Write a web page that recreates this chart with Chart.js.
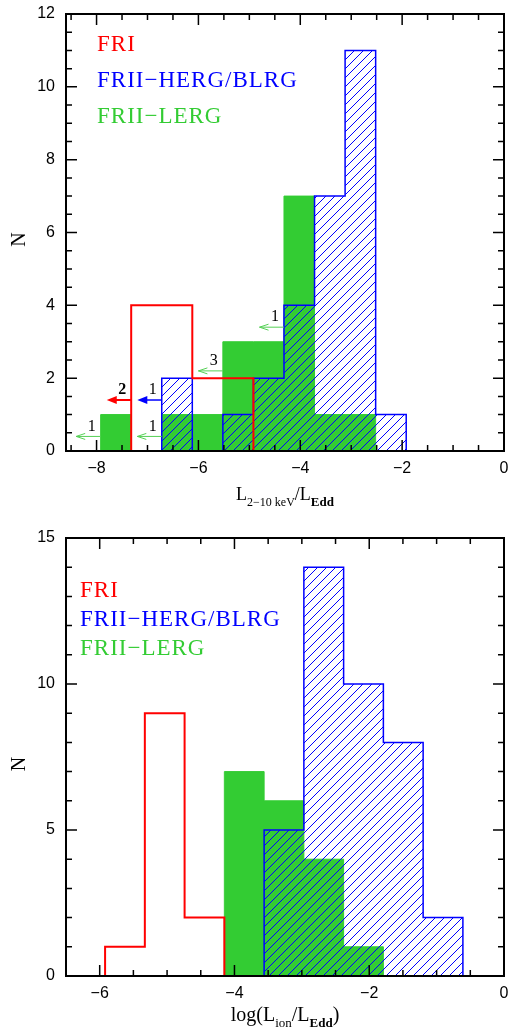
<!DOCTYPE html>
<html>
<head>
<meta charset="utf-8">
<script src="https://cdn.jsdelivr.net/npm/chart.js@4.4.1/dist/chart.umd.min.js"></script>
<style>
  html, body { margin: 0; padding: 0; background: #fff; }
  #wrap { position: relative; width: 508px; height: 1033px; }
  #wrap canvas { position: absolute; left: 0; }
  #top { top: 0; }
  #bottom { top: 516px; }
</style>
</head>
<body>
<div id="wrap">
  <canvas id="top" width="508" height="516"></canvas>
  <canvas id="bottom" width="508" height="517"></canvas>
</div>
<script>
// top panel: L(2-10 keV)/L_Edd, bins of 0.6
var xrayEdges = [-7.92, -7.32, -6.72, -6.12, -5.52, -4.92, -4.32, -3.72, -3.12, -2.52, -1.92];
var xrayFRI  = [0, 4, 4, 2, 2, 0, 0, 0, 0, 0];
var xrayHERG = [0, 0, 2, 0, 1, 2, 4, 7, 11, 1];
var xrayLERG = [1, 0, 1, 1, 3, 3, 7, 1, 1, 0];
// upper limits (arrow tail x, height, count, class)
var xrayLimX = [-7.92, -7.32, -6.72, -6.72, -5.52, -4.32];
var xrayLimY = [0.4, 1.4, 1.4, 0.4, 2.2, 3.4];
var xrayLimN = ['1', '2', '1', '1', '3', '1'];
var xrayLimC = ['lerg', 'fri', 'herg', 'lerg', 'lerg', 'lerg'];
var xrayXTicks = [-8, -6, -4, -2, 0];
var xrayYTicks = [0, 2, 4, 6, 8, 10, 12];

// bottom panel: log(L_ion/L_Edd), bins of 0.59
var ionEdges = [-5.92, -5.33, -4.74, -4.15, -3.56, -2.97, -2.38, -1.79, -1.20, -0.61];
var ionFRI  = [1, 9, 2, 0, 0, 0, 0, 0, 0];
var ionHERG = [0, 0, 0, 0, 5, 14, 10, 8, 2];
var ionLERG = [0, 0, 0, 7, 6, 4, 1, 0, 0];
var ionXTicks = [-6, -4, -2, 0];
var ionYTicks = [0, 5, 10, 15];

var legendNames = ['FRI', 'FRII\u2212HERG/BLRG', 'FRII\u2212LERG'];

var red = '#ff0000', blue = '#0000ff', green = '#33cc33', arrowGreen = '#55d055';
var serif = '"Liberation Serif", "DejaVu Serif", serif';

// histogram outline as step points, broken where the counts are zero
function steps(edges, counts) {
  var pts = [], i = 0;
  while (i < counts.length) {
    if (!counts[i]) { i++; continue; }
    if (pts.length) pts.push({x: edges[i], y: null});
    pts.push({x: edges[i], y: 0});
    while (i < counts.length && counts[i]) {
      pts.push({x: edges[i], y: counts[i]});
      i++;
    }
    pts.push({x: edges[i], y: 0});
  }
  return pts;
}

function hatch(color, size) {
  var c = document.createElement('canvas');
  c.width = size; c.height = size;
  var g = c.getContext('2d');
  g.strokeStyle = color;
  g.lineWidth = 1;
  g.beginPath();
  g.moveTo(0, size); g.lineTo(size, 0);
  g.moveTo(-size / 2, size / 2); g.lineTo(size / 2, -size / 2);
  g.moveTo(size / 2, size * 1.5); g.lineTo(size * 1.5, size / 2);
  g.stroke();
  return g.createPattern(c, 'repeat');
}

function drawParts(ctx, parts, cx, y) {
  var w = 0;
  parts.forEach(function (p) { ctx.font = p[1]; w += ctx.measureText(p[0]).width; });
  var x = cx - w / 2;
  ctx.textAlign = 'left';
  ctx.textBaseline = 'alphabetic';
  parts.forEach(function (p) {
    ctx.font = p[1];
    ctx.fillText(p[0], x, y + (p[2] || 0));
    x += ctx.measureText(p[0]).width;
  });
}

// frame, inward ticks, legend text, axis titles, upper-limit arrows
function decor(cfg) {
  return {
    id: 'decor',
    afterDatasetsDraw: function (chart) {
      var ctx = chart.ctx, a = chart.chartArea;
      var xs = chart.scales.x, ys = chart.scales.y;
      ctx.save();

      // arrows
      if (cfg.lim) {
        var L = cfg.lim;
        for (var i = 0; i < L.x.length; i++) {
          var tx = xs.getPixelForValue(L.x[i]);
          var hx = xs.getPixelForValue(L.x[i] - 0.48);
          var y = ys.getPixelForValue(L.y[i]);
          var col = L.c[i] === 'fri' ? red : (L.c[i] === 'herg' ? blue : arrowGreen);
          ctx.strokeStyle = col; ctx.fillStyle = col;
          if (L.c[i] === 'lerg') {
            ctx.lineWidth = 1;
            ctx.beginPath();
            ctx.moveTo(tx, y); ctx.lineTo(hx, y);
            ctx.moveTo(hx + 9, y - 3); ctx.lineTo(hx, y); ctx.lineTo(hx + 9, y + 3);
            ctx.stroke();
          } else {
            ctx.lineWidth = L.c[i] === 'fri' ? 2 : 1.5;
            ctx.beginPath();
            ctx.moveTo(tx, y); ctx.lineTo(hx + 5, y);
            ctx.stroke();
            ctx.beginPath();
            ctx.moveTo(hx, y); ctx.lineTo(hx + 10, y - 4); ctx.lineTo(hx + 10, y + 4);
            ctx.closePath(); ctx.fill();
          }
          ctx.fillStyle = '#000';
          ctx.font = (L.c[i] === 'fri' ? 'bold ' : '') + '16px ' + serif;
          ctx.textAlign = 'center'; ctx.textBaseline = 'middle';
          ctx.fillText(L.n[i], tx - 9, y - 10);
        }
      }

      // frame
      ctx.strokeStyle = '#000';
      ctx.lineWidth = 2;
      ctx.strokeRect(a.left, a.top, a.right - a.left, a.bottom - a.top);

      // ticks
      ctx.lineWidth = 1.5;
      ctx.beginPath();
      var v, p, len;
      for (v = Math.ceil(xs.min / cfg.xMinor) * cfg.xMinor; v <= xs.max + 1e-9; v += cfg.xMinor) {
        p = xs.getPixelForValue(v);
        len = Math.abs(v / cfg.xMajor - Math.round(v / cfg.xMajor)) < 1e-6 ? 11 : 6;
        ctx.moveTo(p, a.bottom); ctx.lineTo(p, a.bottom - len);
        ctx.moveTo(p, a.top); ctx.lineTo(p, a.top + len);
      }
      for (v = Math.ceil(ys.min / cfg.yMinor) * cfg.yMinor; v <= ys.max + 1e-9; v += cfg.yMinor) {
        p = ys.getPixelForValue(v);
        len = Math.abs(v / cfg.yMajor - Math.round(v / cfg.yMajor)) < 1e-6 ? 11 : 6;
        ctx.moveTo(a.left, p); ctx.lineTo(a.left + len, p);
        ctx.moveTo(a.right, p); ctx.lineTo(a.right - len, p);
      }
      ctx.stroke();

      // legend text
      ctx.font = '23px ' + serif;
      ctx.letterSpacing = '1px';
      ctx.textAlign = 'left'; ctx.textBaseline = 'alphabetic';
      var cols = [red, blue, green];
      for (i = 0; i < legendNames.length; i++) {
        ctx.fillStyle = cols[i];
        ctx.fillText(legendNames[i], a.left + cfg.legX, a.top + cfg.legY + i * cfg.legDy);
      }
      ctx.letterSpacing = '0px';

      // axis titles
      ctx.fillStyle = '#000';
      drawParts(ctx, cfg.xTitle, (a.left + a.right) / 2, a.bottom + cfg.xTitleY);
      ctx.save();
      ctx.translate(20, (a.top + a.bottom) / 2 + 7);
      ctx.rotate(-Math.PI / 2);
      ctx.font = '20px ' + serif;
      ctx.textAlign = 'center'; ctx.textBaseline = 'middle';
      ctx.fillText('N', 0, 0);
      ctx.restore();

      ctx.restore();
    }
  };
}

function makeChart(id, o) {
  return new Chart(document.getElementById(id), {
    type: 'line',
    data: {
      datasets: [{
        data: steps(o.edges, o.fri),
        stepped: true, fill: false,
        borderColor: red, borderWidth: 2, pointRadius: 0
      }, {
        data: steps(o.edges, o.herg),
        stepped: true, fill: 'origin',
        backgroundColor: hatch(blue, 9),
        borderColor: blue, borderWidth: 1.5, pointRadius: 0
      }, {
        data: steps(o.edges, o.lerg),
        stepped: true, fill: 'origin',
        backgroundColor: green,
        borderColor: green, borderWidth: 1, pointRadius: 0
      }]
    },
    options: {
      responsive: false,
      animation: false,
      devicePixelRatio: 1,
      events: [],
      layout: { padding: { left: 0, right: 4, top: o.padTop, bottom: 0 } },
      plugins: { legend: { display: false }, tooltip: { enabled: false } },
      scales: {
        x: {
          type: 'linear', min: o.xMin, max: 0,
          grid: { display: false, drawTicks: false },
          border: { display: false },
          afterBuildTicks: function (s) { s.ticks = o.xTicks.map(function (t) { return {value: t}; }); },
          afterFit: function (s) { s.height = o.xHeight; s.paddingLeft = 0; s.paddingRight = 0; },
          ticks: {
            padding: 8, color: '#000',
            font: { family: '"Liberation Sans", Arial, sans-serif', size: 16 },
            callback: function (v) { return v < 0 ? '\u2212' + Math.abs(v) : String(v); }
          }
        },
        y: {
          min: 0, max: o.yMax,
          grid: { display: false, drawTicks: false },
          border: { display: false },
          afterBuildTicks: function (s) { s.ticks = o.yTicks.map(function (t) { return {value: t}; }); },
          afterFit: function (s) { s.width = 66; s.paddingTop = 0; s.paddingBottom = 0; },
          ticks: {
            padding: 11, color: '#000',
            font: { family: '"Liberation Sans", Arial, sans-serif', size: 16 }
          }
        }
      }
    },
    plugins: [decor(o.decor)]
  });
}

makeChart('top', {
  edges: xrayEdges, fri: xrayFRI, herg: xrayHERG, lerg: xrayLERG,
  xMin: -8.6, yMax: 12, xTicks: xrayXTicks, yTicks: xrayYTicks,
  padTop: 14, xHeight: 65,
  decor: {
    xMinor: 0.5, xMajor: 2, yMinor: 0.5, yMajor: 2,
    legX: 31, legY: 37, legDy: 36,
    xTitleY: 49,
    xTitle: [['L', '18px ' + serif], ['2\u221210 keV', '12px ' + serif, 6], ['/', '18px ' + serif],
             ['L', '18px ' + serif], ['Edd', 'bold 13px ' + serif, 6]],
    lim: { x: xrayLimX, y: xrayLimY, n: xrayLimN, c: xrayLimC }
  }
});

makeChart('bottom', {
  edges: ionEdges, fri: ionFRI, herg: ionHERG, lerg: ionLERG,
  xMin: -6.5, yMax: 15, xTicks: ionXTicks, yTicks: ionYTicks,
  padTop: 22, xHeight: 57,
  decor: {
    xMinor: 0.5, xMajor: 2, yMinor: 1, yMajor: 5,
    legX: 14, legY: 59, legDy: 29,
    xTitleY: 45,
    xTitle: [['log(L', '20px ' + serif], ['ion', '13px ' + serif, 6], ['/L', '20px ' + serif],
             ['Edd', 'bold 13px ' + serif, 6], [')', '20px ' + serif]]
  }
});
</script>
</body>
</html>
